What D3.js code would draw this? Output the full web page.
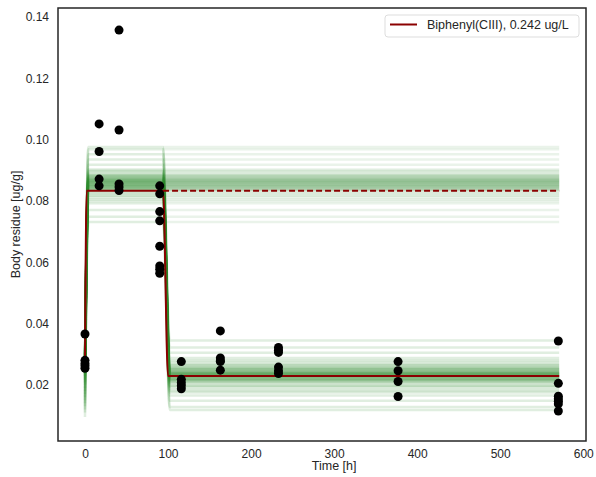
<!DOCTYPE html>
<html>
<head>
<meta charset="utf-8">
<script src="https://cdnjs.cloudflare.com/ajax/libs/d3/7.8.5/d3.min.js"></script>
<style>
  body { margin: 0; background: #fff; }
  text { font-family: "Liberation Sans", Arial, sans-serif; fill: #262626; }
</style>
</head>
<body>
<svg id="chart" width="596" height="477"></svg>
<script>
// measured body residues, grouped by sampling time
var obsTimes = [0, 17, 41, 90, 116, 163, 233, 377, 570];
var obsValues = [
  [0.0366, 0.0280, 0.0270, 0.0262, 0.0254],
  [0.1051, 0.0961, 0.0871, 0.0849],
  [0.1357, 0.1031, 0.0855, 0.0845, 0.0834],
  [0.0849, 0.0823, 0.0765, 0.0735, 0.0652, 0.0588, 0.0577, 0.0564],
  [0.0276, 0.0218, 0.0207, 0.0197, 0.0187],
  [0.0376, 0.0288, 0.0279, 0.0276, 0.0248],
  [0.0322, 0.0313, 0.0306, 0.0258, 0.0246, 0.0237],
  [0.0276, 0.0246, 0.0211, 0.0162],
  [0.0343, 0.0205, 0.0163, 0.0155, 0.0147, 0.0138, 0.0115]
];

// best fit model
var fitTimes = [0, 2, 94, 100, 571];
var fitValues = [0.0272, 0.0833, 0.0833, 0.0229, 0.0229];
var contTimes = [94, 571];
var contValues = [0.0833, 0.0833];

// posterior samples: start value, uptake plateau, depuration plateau
var sampleTimes = [0, 4, 94, 102, 571];
var sampleStart = [0.0270, 0.0240, 0.0290, 0.0210, 0.0260, 0.0180, 0.0300, 0.0230, 0.0150, 0.0275,
                   0.0250, 0.0200, 0.0120, 0.0285, 0.0220, 0.0265, 0.0170, 0.0245, 0.0095, 0.0280,
                   0.0235, 0.0255, 0.0190, 0.0268, 0.0140, 0.0295, 0.0225, 0.0260, 0.0110, 0.0275,
                   0.0215, 0.0250, 0.0160, 0.0288, 0.0230, 0.0270, 0.0130, 0.0240, 0.0205, 0.0262,
                   0.0255, 0.0265, 0.0245, 0.0272, 0.0238, 0.0278, 0.0250, 0.0262, 0.0242, 0.0268,
                   0.0258, 0.0248, 0.0275, 0.0236, 0.0266, 0.0252];
var sampleUptake = [0.0855, 0.0871, 0.0842, 0.0889, 0.0826, 0.0862, 0.0848, 0.0902, 0.0812, 0.0878,
                    0.0835, 0.0884, 0.0858, 0.0851, 0.0918, 0.0792, 0.0867, 0.0845, 0.0895, 0.0821,
                    0.0874, 0.0805, 0.0860, 0.0935, 0.0770, 0.0881, 0.0839, 0.0898, 0.0817, 0.0865,
                    0.0952, 0.0748, 0.0853, 0.0886, 0.0800, 0.0968, 0.0731, 0.0869, 0.0831, 0.0976,
                    0.0850, 0.0862, 0.0845, 0.0870, 0.0838, 0.0876, 0.0856, 0.0866, 0.0842, 0.0880,
                    0.0853, 0.0847, 0.0872, 0.0836, 0.0859, 0.0864];
var sampleDepur = [0.0230, 0.0245, 0.0218, 0.0262, 0.0205, 0.0238, 0.0224, 0.0275, 0.0193, 0.0252,
                   0.0212, 0.0268, 0.0234, 0.0227, 0.0288, 0.0180, 0.0241, 0.0220, 0.0258, 0.0199,
                   0.0249, 0.0186, 0.0232, 0.0305, 0.0165, 0.0256, 0.0215, 0.0280, 0.0196, 0.0240,
                   0.0322, 0.0148, 0.0228, 0.0265, 0.0175, 0.0345, 0.0128, 0.0236, 0.0208, 0.0118,
                   0.0228, 0.0236, 0.0222, 0.0244, 0.0216, 0.0250, 0.0232, 0.0240, 0.0219, 0.0254,
                   0.0226, 0.0234, 0.0247, 0.0213, 0.0238, 0.0230];

var xTicks = [0, 100, 200, 300, 400, 500, 600];
var yTicks = [0.02, 0.04, 0.06, 0.08, 0.10, 0.12, 0.14];

var W = 596, H = 477;
var margin = { top: 8, right: 10, bottom: 36, left: 58 };
var iw = W - margin.left - margin.right,
    ih = H - margin.top - margin.bottom;

var svg = d3.select('#chart');
var g = svg.append('g').attr('transform', 'translate(' + margin.left + ',' + margin.top + ')');

var x = d3.scaleLinear().domain([-32.5, 603.3]).range([0, iw]);
var y = d3.scaleLinear().domain([0.0017, 0.1429]).range([ih, 0]);

g.append('clipPath').attr('id', 'clip').append('rect').attr('width', iw).attr('height', ih);
var plot = g.append('g').attr('clip-path', 'url(#clip)');

var smooth = d3.line()
  .x(function (d) { return x(d[0]); })
  .y(function (d) { return y(d[1]); })
  .curve(d3.curveMonotoneX);

// posterior ensemble
sampleStart.forEach(function (s, i) {
  var pts = [[sampleTimes[0], s], [sampleTimes[1], sampleUptake[i]], [sampleTimes[2], sampleUptake[i]],
             [sampleTimes[3], sampleDepur[i]], [sampleTimes[4], sampleDepur[i]]];
  plot.append('path').attr('d', smooth([[sampleTimes[2], sampleUptake[i]], [sampleTimes[4], sampleUptake[i]]]))
    .attr('fill', 'none').attr('stroke', '#2e8b2e').attr('stroke-opacity', 0.1).attr('stroke-width', 2.5);
  plot.append('path').attr('d', smooth(pts))
    .attr('fill', 'none').attr('stroke', '#2e8b2e').attr('stroke-opacity', 0.15).attr('stroke-width', 2.5);
});

// best fit lines
plot.append('path').datum(d3.zip(contTimes, contValues)).attr('d', smooth)
  .attr('fill', 'none').attr('stroke', '#8b0000').attr('stroke-width', 2).attr('stroke-dasharray', '6,3');
plot.append('path').datum(d3.zip(fitTimes, fitValues)).attr('d', smooth)
  .attr('fill', 'none').attr('stroke', '#8b0000').attr('stroke-width', 2).attr('stroke-linejoin', 'round');

// observations
obsTimes.forEach(function (t, i) {
  plot.selectAll(null).data(obsValues[i]).enter().append('circle')
    .attr('cx', x(t)).attr('cy', function (d) { return y(d); })
    .attr('r', 4.5).attr('fill', '#000');
});

// axes
var xAxis = g.append('g').attr('transform', 'translate(0,' + ih + ')')
  .call(d3.axisBottom(x).tickValues(xTicks).tickSize(0).tickPadding(8));
var yAxis = g.append('g')
  .call(d3.axisLeft(y).tickValues(yTicks).tickFormat(d3.format('.2f')).tickSize(0).tickPadding(9));
[xAxis, yAxis].forEach(function (a) {
  a.select('.domain').remove();
  a.selectAll('text').attr('font-size', 12).attr('fill', '#262626')
    .style('font-family', '"Liberation Sans", Arial, sans-serif');
});

g.append('rect').attr('width', iw).attr('height', ih)
  .attr('fill', 'none').attr('stroke', '#262626').attr('stroke-width', 1.5);

svg.append('text').attr('x', margin.left + x(300)).attr('y', 470)
  .attr('text-anchor', 'middle').attr('font-size', 12.5).text('Time [h]');
svg.append('text').attr('transform', 'translate(20,' + (margin.top + ih / 2) + ') rotate(-90)')
  .attr('text-anchor', 'middle').attr('font-size', 12.5).text('Body residue [ug/g]');

// legend
var lg = svg.append('g').attr('transform', 'translate(385,15)');
lg.append('rect').attr('width', 194).attr('height', 22).attr('rx', 3)
  .attr('fill', '#fff').attr('stroke', '#dddddd').attr('stroke-width', 1);
lg.append('line').attr('x1', 5).attr('x2', 32).attr('y1', 9.5).attr('y2', 9.5)
  .attr('stroke', '#8b0000').attr('stroke-width', 2);
lg.append('text').attr('x', 42).attr('y', 14).attr('font-size', 12.5)
  .text('Biphenyl(CIII), 0.242 ug/L');
</script>
</body>
</html>
